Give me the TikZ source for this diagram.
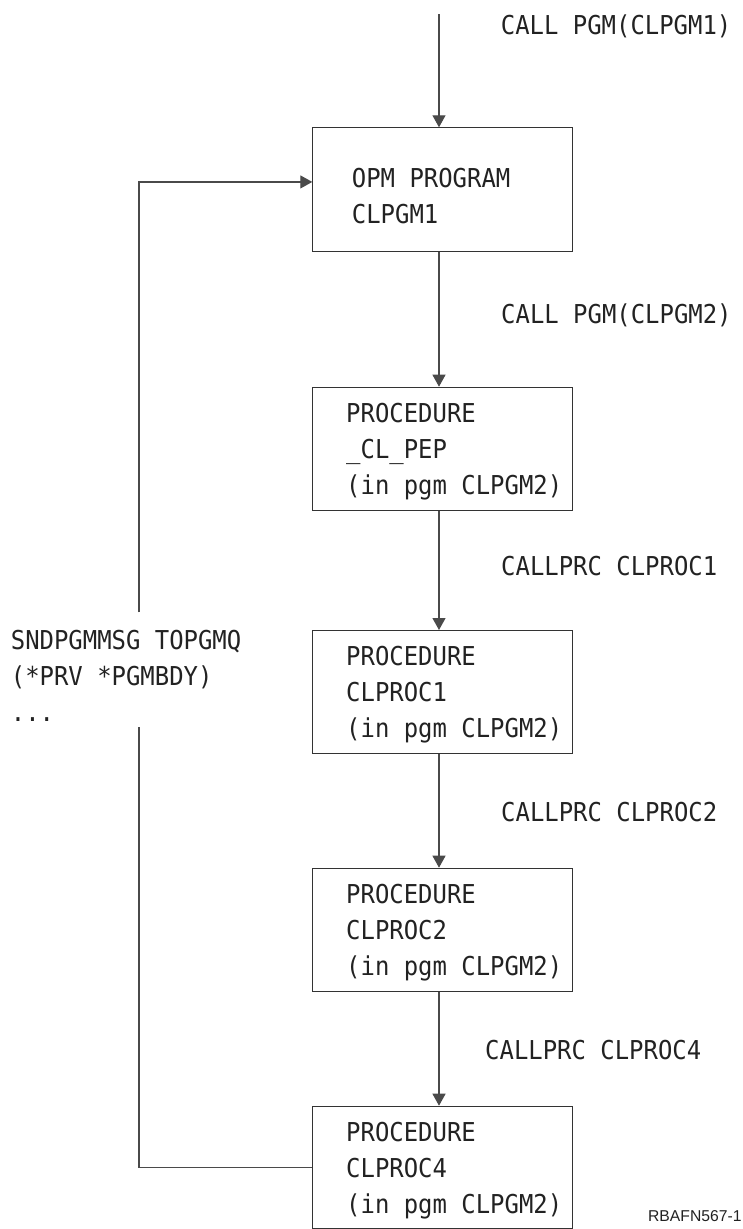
\documentclass[tikz,border=0pt]{standalone}
\usepackage{fontspec}
\newfontfamily\monofam[FakeStretch=0.92]{DejaVu Sans Mono}
\newfontfamily\sansfam{Liberation Sans}
\usetikzlibrary{arrows.meta}
\definecolor{ink}{HTML}{222222}
\definecolor{edge}{HTML}{333333}
\definecolor{conn}{HTML}{4A4A4A}
\tikzset{
  procbox/.style={draw=edge, line width=1pt, minimum width=259.4pt, minimum height=123.3pt, inner sep=0pt, anchor=north west},
  codetxt/.style={font=\monofam\fontsize{26}{36}\selectfont, text=ink, inner sep=0pt, anchor=base west},
  flow/.style={draw=conn, line width=1.2pt, -{Triangle[length=12pt,width=13pt]}},
  plainflow/.style={draw=conn, line width=1.2pt},
}
\begin{document}
\begin{tikzpicture}[x=1pt,y=-1pt]
\useasboundingbox (0,0) rectangle (743,1229);
% boxes
\node[procbox] (b1) at (312.3,127.3) {};
\node[procbox] (b2) at (312.3,386.7) {};
\node[procbox] (b3) at (312.3,630) {};
\node[procbox] (b4) at (312.3,867.7) {};
\node[procbox, minimum height=122pt] (b5) at (312.3,1105.7) {};
% box texts
\node[codetxt] (t1) at (351.7,187.3) {\begin{tabular}[t]{@{}l@{}}OPM PROGRAM\\CLPGM1\end{tabular}};
\node[codetxt] (t2) at (346,422.3) {\begin{tabular}[t]{@{}l@{}}PROCEDURE\\\_CL\_PEP\\(in pgm CLPGM2)\end{tabular}};
\node[codetxt] (t3) at (346,665.7) {\begin{tabular}[t]{@{}l@{}}PROCEDURE\\CLPROC1\\(in pgm CLPGM2)\end{tabular}};
\node[codetxt] (t4) at (346,903.3) {\begin{tabular}[t]{@{}l@{}}PROCEDURE\\CLPROC2\\(in pgm CLPGM2)\end{tabular}};
\node[codetxt] (t5) at (346,1141.3) {\begin{tabular}[t]{@{}l@{}}PROCEDURE\\CLPROC4\\(in pgm CLPGM2)\end{tabular}};
% connector labels
\node[codetxt] (l1) at (500.7,34.3) {CALL PGM(CLPGM1)};
\node[codetxt] (l2) at (501,323.3) {CALL PGM(CLPGM2)};
\node[codetxt] (l3) at (501,575) {CALLPRC CLPROC1};
\node[codetxt] (l4) at (501,821) {CALLPRC CLPROC2};
\node[codetxt] (l5) at (485,1059.3) {CALLPRC CLPROC4};
\node[codetxt] (msg) at (10.7,649) {\begin{tabular}[t]{@{}l@{}}SNDPGMMSG TOPGMQ\\(*PRV *PGMBDY)\\...\end{tabular}};
\node[font=\sansfam\fontsize{15.7}{18}\selectfont, text=ink, inner sep=0pt, anchor=base east] (fig) at (741.7,1221.7) {RBAFN567-1};
% connectors
\coordinate (top) at (439,14);
\draw[flow] (top) -- (top |- b1.north);
\draw[flow] (b1.south -| top) -- (b2.north -| top);
\draw[flow] (b2.south -| top) -- (b3.north -| top);
\draw[flow] (b3.south -| top) -- (b4.north -| top);
\draw[flow] (b4.south -| top) -- (b5.north -| top);
\coordinate (lb) at (139,727.3);
\coordinate (lt) at (139,612.3);
\draw[plainflow] (b5.west) -| (lb);
\draw[flow] (lt) |- ([yshift=7.5pt]b1.west);
\end{tikzpicture}
\end{document}
